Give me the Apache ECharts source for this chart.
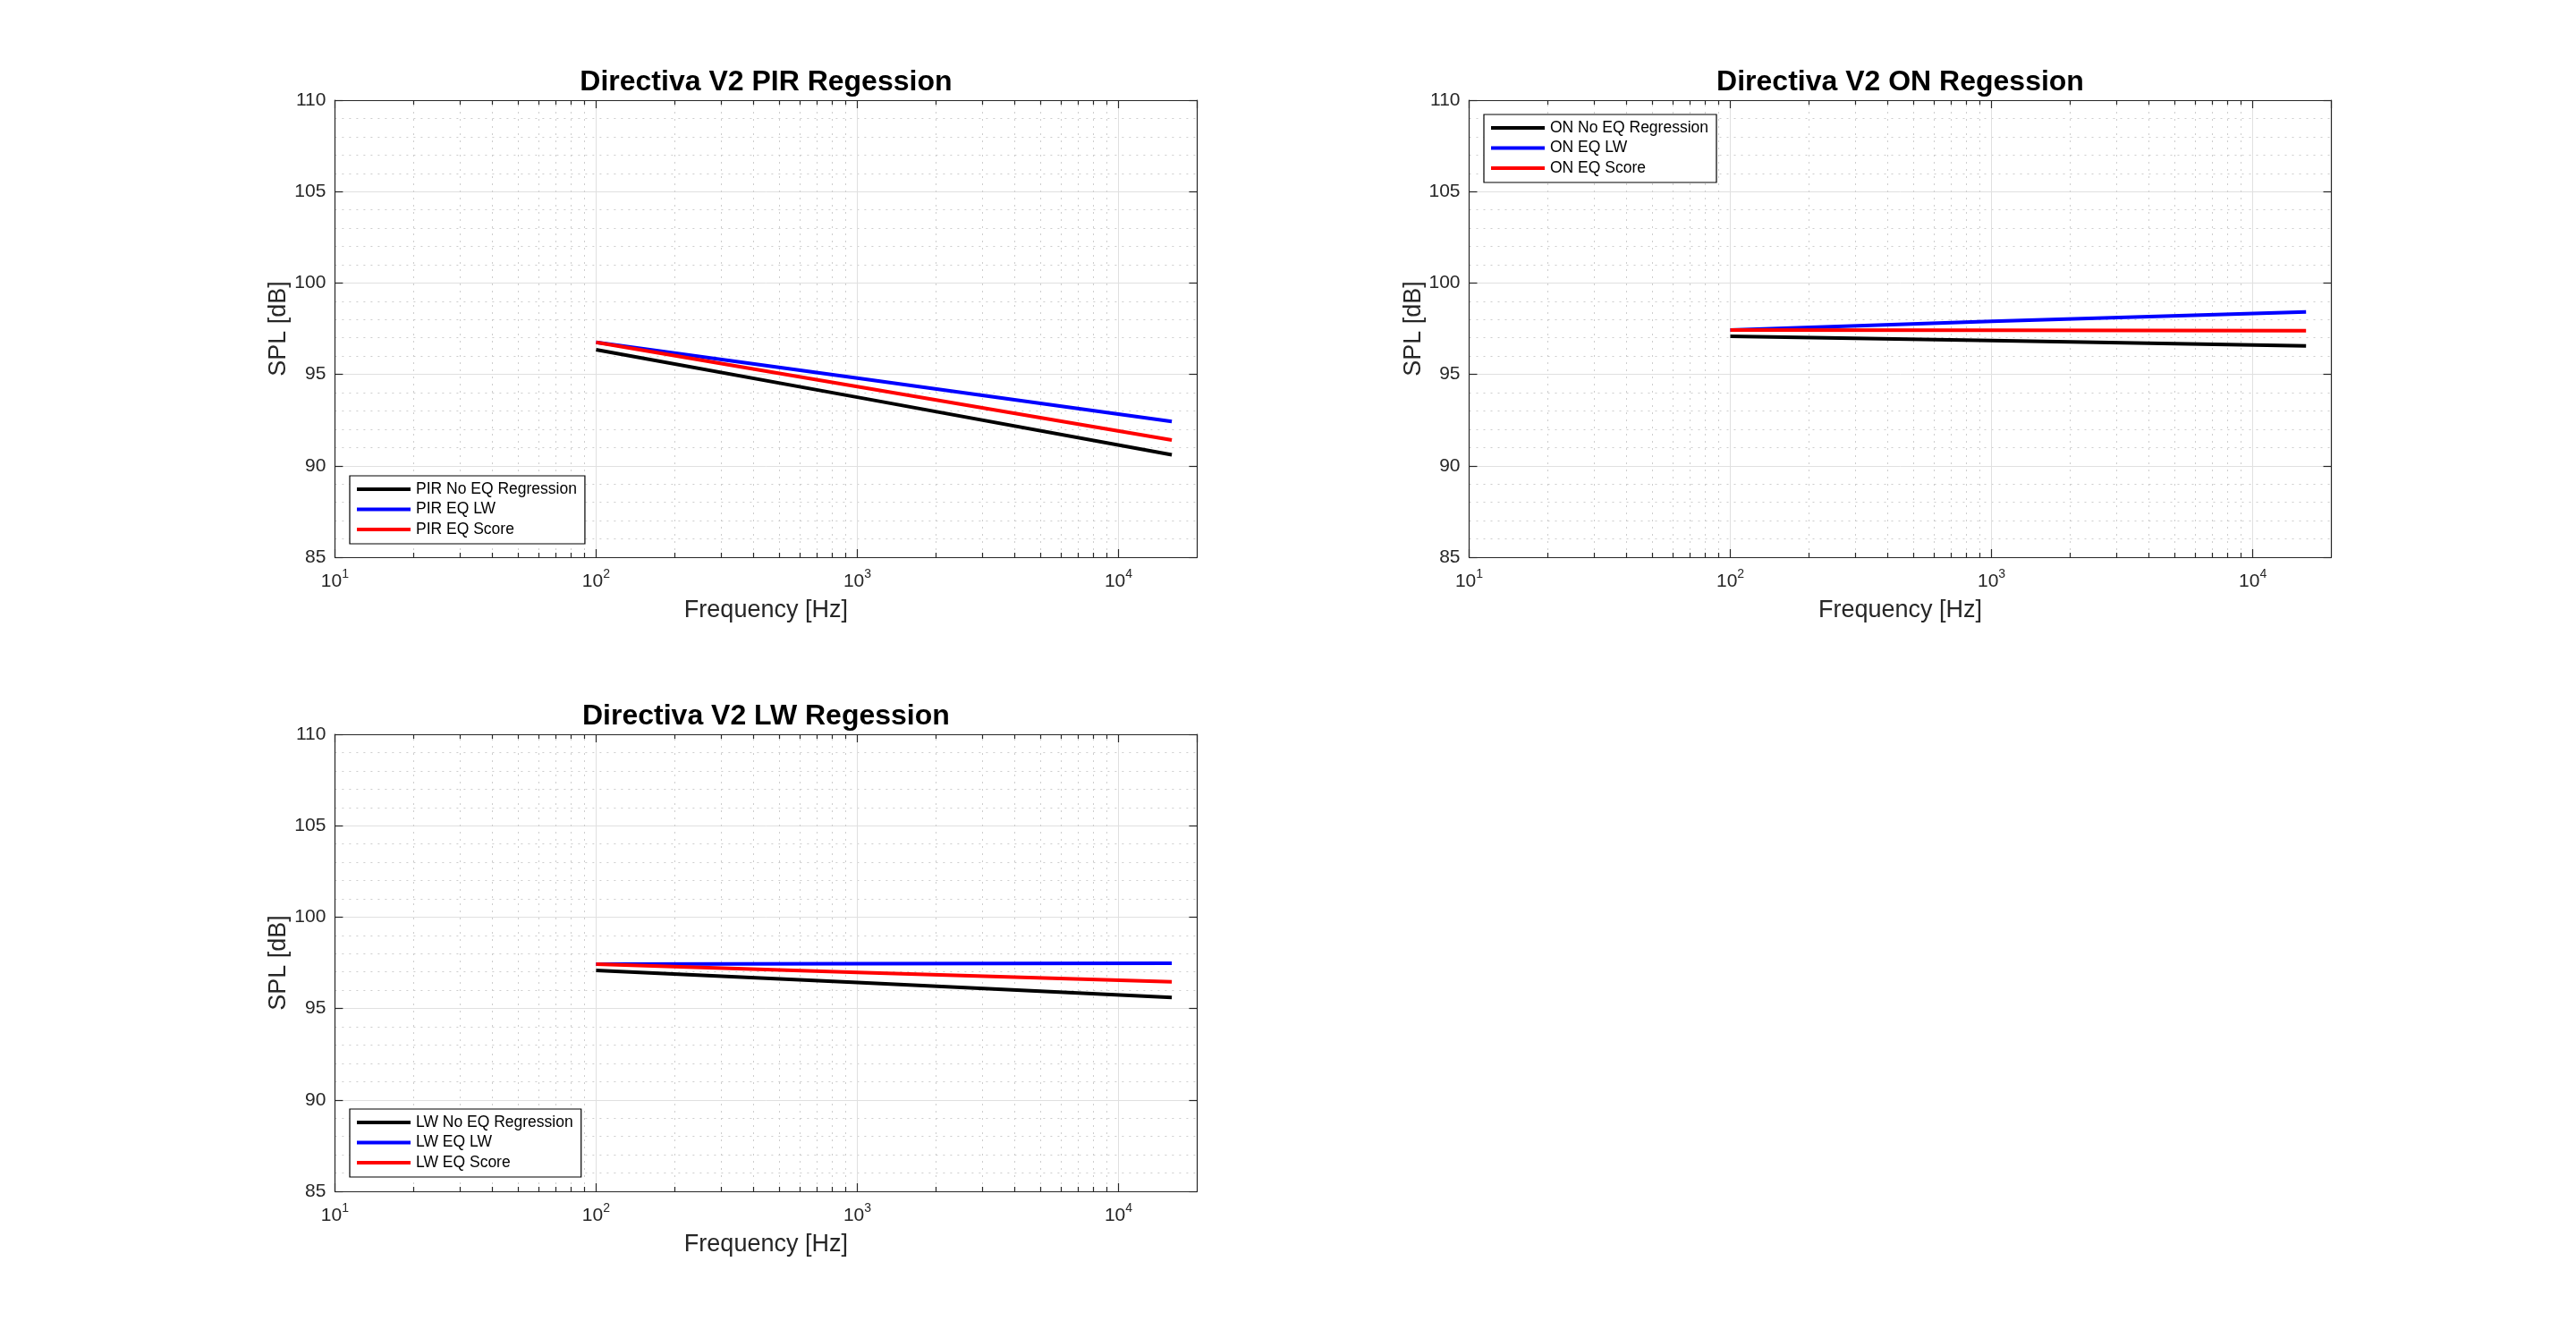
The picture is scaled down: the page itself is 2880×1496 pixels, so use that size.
<!DOCTYPE html>
<html>
<head>
<meta charset="utf-8">
<script src="https://cdn.jsdelivr.net/npm/echarts@6/dist/echarts.min.js"></script>
<style>
html,body{margin:0;padding:0;background:#fff;}
#chart{width:2880px;height:1496px;}
</style>
</head>
<body>
<div id="chart"></div>
<script>
// ---------- data ----------
const freqs = [100, 1000, 16000];            // Hz
const minorFreqs = [20,30,40,50,60,70,80,90,200,300,400,500,600,700,800,900,2000,3000,4000,5000,6000,7000,8000,9000];

const titles = ['Directiva V2 PIR Regession', 'Directiva V2 ON Regession', 'Directiva V2 LW Regession'];

const pirNames = ['PIR No EQ Regression', 'PIR EQ LW', 'PIR EQ Score'];
const pirNoEQ  = [96.35, 93.75, 90.60];
const pirEQLW  = [96.75, 94.80, 92.42];
const pirEQSc  = [96.75, 94.33, 91.41];

const onNames = ['ON No EQ Regression', 'ON EQ LW', 'ON EQ Score'];
const onNoEQ  = [97.08, 96.85, 96.56];
const onEQLW  = [97.43, 97.90, 98.42];
const onEQSc  = [97.43, 97.41, 97.39];

const lwNames = ['LW No EQ Regression', 'LW EQ LW', 'LW EQ Score'];
const lwNoEQ  = [97.08, 96.42, 95.61];
const lwEQLW  = [97.43, 97.45, 97.47];
const lwEQSc  = [97.43, 96.98, 96.46];

const X_MIN = 10, X_MAX = 20000;
const Y_MIN = 85, Y_MAX = 110, Y_STEP = 5;
const lineColors = ['#000000', '#0000ff', '#ff0000'];

// ---------- layout ----------
const panels = [
  {left: 374.4, top: 112, width: 964, height: 511, names: pirNames, values: [pirNoEQ, pirEQLW, pirEQSc], legend: {left: 391, top: 532}},
  {left: 1642.5, top: 112, width: 964, height: 511, names: onNames, values: [onNoEQ, onEQLW, onEQSc], legend: {left: 1659, top: 128}},
  {left: 374.4, top: 821, width: 964, height: 511, names: lwNames, values: [lwNoEQ, lwEQLW, lwEQSc], legend: {left: 391, top: 1240}}
];

const FONT = '"Liberation Sans", Helvetica, Arial, sans-serif';
const AXIS_COLOR = '#262626';
const GRID_COLOR = '#e0e0e0';
const MINOR_COLOR = '#cdcdcd';

const option = {
  backgroundColor: '#ffffff',
  animation: false,
  textStyle: {fontFamily: FONT},
  title: [], grid: [], xAxis: [], yAxis: [], legend: [], series: []
};

panels.forEach((p, i) => {
  option.title.push({
    text: titles[i],
    left: p.left + p.width / 2,
    top: p.top - 36,
    textAlign: 'center',
    padding: 0,
    textStyle: {fontFamily: FONT, fontWeight: 'bold', fontSize: 32, lineHeight: 32, color: '#000'}
  });
  option.grid.push({left: p.left, top: p.top, width: p.width, height: p.height, containLabel: false, show: false});

  // bottom log x axis
  option.xAxis.push({
    type: 'log', logBase: 10, gridIndex: i, min: X_MIN, max: X_MAX,
    position: 'bottom',
    name: 'Frequency [Hz]', nameLocation: 'middle', nameGap: 46,
    nameTextStyle: {fontFamily: FONT, fontSize: 27, color: '#262626'},
    axisLine: {show: true, onZero: false, lineStyle: {color: AXIS_COLOR, width: 1.2}},
    axisTick: {show: true, inside: true, length: 9, lineStyle: {color: AXIS_COLOR, width: 1.2}},
    axisLabel: {
      margin: 12,
      showMaxLabel: false,
      formatter: function (v) {
        const e = Math.round(Math.log10(v));
        if (Math.abs(Math.pow(10, e) - v) > 1e-6 * v) return '';
        return '{b|10}{s|' + e + '}';
      },
      rich: {
        b: {fontFamily: FONT, fontSize: 21, lineHeight: 26, verticalAlign: 'bottom', color: '#262626'},
        s: {fontFamily: FONT, fontSize: 14, lineHeight: 26, verticalAlign: 'top', color: '#262626'}
      }
    },
    splitLine: {show: true, lineStyle: {color: GRID_COLOR, width: 1}},
    minorTick: {show: false}, minorSplitLine: {show: false}
  });
  // top log x axis (box)
  option.xAxis.push({
    type: 'log', logBase: 10, gridIndex: i, min: X_MIN, max: X_MAX,
    position: 'top',
    axisLine: {show: true, onZero: false, lineStyle: {color: AXIS_COLOR, width: 1.2}},
    axisTick: {show: true, inside: true, length: 9, lineStyle: {color: AXIS_COLOR, width: 1.2}},
    axisLabel: {show: false}, splitLine: {show: false}
  });
  // left y axis
  option.yAxis.push({
    type: 'value', gridIndex: i, min: Y_MIN, max: Y_MAX, interval: Y_STEP,
    position: 'left',
    name: 'SPL [dB]', nameLocation: 'middle', nameGap: 48, nameRotate: 90,
    nameTextStyle: {fontFamily: FONT, fontSize: 27, color: '#262626'},
    axisLine: {show: true, onZero: false, lineStyle: {color: AXIS_COLOR, width: 1.2}},
    axisTick: {show: true, inside: true, length: 9, lineStyle: {color: AXIS_COLOR, width: 1.2}},
    axisLabel: {margin: 10, fontFamily: FONT, fontSize: 21, color: '#262626'},
    splitLine: {show: true, lineStyle: {color: GRID_COLOR, width: 1}},
    minorTick: {show: false, splitNumber: 5},
    minorSplitLine: {show: true, lineStyle: {color: MINOR_COLOR, width: 1, type: [2, 6]}}
  });
  // right y axis (box)
  option.yAxis.push({
    type: 'value', gridIndex: i, min: Y_MIN, max: Y_MAX, interval: Y_STEP,
    position: 'right',
    axisLine: {show: true, onZero: false, lineStyle: {color: AXIS_COLOR, width: 1.2}},
    axisTick: {show: true, inside: true, length: 9, lineStyle: {color: AXIS_COLOR, width: 1.2}},
    axisLabel: {show: false}, splitLine: {show: false}
  });

  const xIdx = i * 2, yIdx = i * 2;

  // minor log grid lines and minor ticks
  option.series.push({
    type: 'custom', xAxisIndex: xIdx, yAxisIndex: yIdx, silent: true, z: 1,
    data: minorFreqs.map(f => [f, Y_MIN]),
    encode: {x: 0, y: 1},
    renderItem: function (params, api) {
      const f = api.value(0);
      const b = api.coord([f, Y_MIN]);
      const t = api.coord([f, Y_MAX]);
      const x = Math.round(b[0]) + 0.5;
      return {
        type: 'group',
        children: [
          {type: 'line', shape: {x1: x, y1: b[1], x2: x, y2: t[1]}, style: {stroke: MINOR_COLOR, lineWidth: 1, lineDash: [2, 6]}},
          {type: 'line', shape: {x1: x, y1: b[1], x2: x, y2: b[1] - 5}, style: {stroke: AXIS_COLOR, lineWidth: 1.2}},
          {type: 'line', shape: {x1: x, y1: t[1], x2: x, y2: t[1] + 5}, style: {stroke: AXIS_COLOR, lineWidth: 1.2}}
        ]
      };
    }
  });

  p.names.forEach((nm, k) => {
    option.series.push({
      name: nm, type: 'line', xAxisIndex: xIdx, yAxisIndex: yIdx,
      data: freqs.map((f, j) => [f, p.values[k][j]]),
      showSymbol: false, symbol: 'none', smooth: false, z: 5 + k,
      lineStyle: {color: lineColors[k], width: 4},
      itemStyle: {color: lineColors[k]}
    });
  });

  option.legend.push({
    data: p.names,
    left: p.legend.left, top: p.legend.top,
    orient: 'vertical',
    icon: 'rect', itemWidth: 60, itemHeight: 4, itemGap: 4.5,
    padding: [6, 9, 7, 8],
    backgroundColor: '#ffffff',
    borderColor: '#000000', borderWidth: 1.2,
    selectedMode: false,
    textStyle: {fontFamily: FONT, fontSize: 17.5, lineHeight: 18, color: '#000', padding: [0, 0, 0, 1]}
  });
});

const chart = echarts.init(document.getElementById('chart'), null, {renderer: 'canvas'});
chart.setOption(option);
</script>
</body>
</html>
